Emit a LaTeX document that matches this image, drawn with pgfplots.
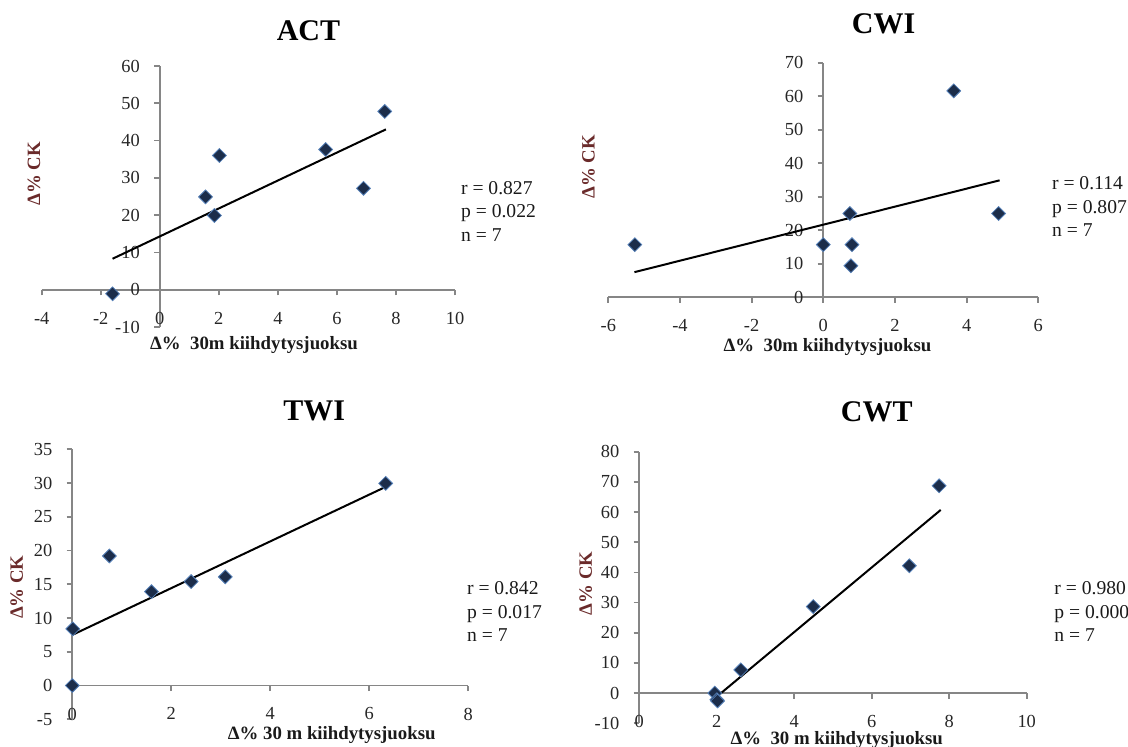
\documentclass[border=0pt]{standalone}
\usepackage{fontspec}
\setmainfont{Liberation Serif}
\usepackage{pgfplots}
\pgfplotsset{compat=1.18}
\definecolor{axgray}{HTML}{868686}
\definecolor{mkfill}{HTML}{1C2D4A}
\definecolor{mkedge}{HTML}{5580B8}
\definecolor{ylab}{HTML}{6A2A2A}
\definecolor{tickc}{HTML}{262626}
\definecolor{labc}{HTML}{1A1A1A}
\pgfplotsset{
  excel/.style={
    scale only axis, axis lines=middle, enlargelimits=false, clip=false,
    axis line style={draw=axgray, line width=0.9pt, -},
    every inner x axis line/.append style={-},
    every inner y axis line/.append style={-},
    tick align=outside, major tick length=2.8pt,
    tick style={draw=axgray, line width=0.9pt},
    hide obscured x ticks=false, hide obscured y ticks=false,
    ticklabel style={font=\fontsize{9.2}{10}\selectfont, text=tickc},
    /pgf/number format/assume math mode=true,
    xticklabel style={yshift=-4.8pt},
    yticklabel style={xshift=-3.7pt},
    anchor=south west,
  },
  dots/.style={only marks, mark=square*, mark size=2.45pt,
    mark options={rotate=45, fill=mkfill, draw=mkedge, line width=0.4pt}},
  trend/.style={black, line width=1pt, no marks},
}
\tikzset{
  ttl/.style={anchor=base, font=\bfseries\fontsize{15}{18}\selectfont},
  ylb/.style={rotate=90, font=\bfseries\fontsize{9.4}{11}\selectfont, text=ylab},
  xlb/.style={anchor=base, font=\bfseries\fontsize{9.4}{11}\selectfont, text=labc},
  stat/.style={anchor=base west, font=\fontsize{9.8}{12}\selectfont, text=labc, inner sep=0pt},
}
\begin{document}
\begin{tikzpicture}
\useasboundingbox (0,0) rectangle (564pt,373.5pt);
\clip (0,0) rectangle (564pt,373.5pt);

% ---------- ACT ----------
\begin{axis}[excel, at={(20.85pt,210pt)}, width=206.65pt, height=130.5pt,
  xmin=-4, xmax=10, ymin=-10, ymax=60,
  xtick={-4,-2,0,2,4,6,8,10}, ytick={-10,0,10,20,30,40,50,60}]
\addplot[dots] coordinates {(-1.6,-1.1) (1.55,24.9) (1.85,19.9) (2.02,36) (5.62,37.6) (6.9,27.2) (7.62,47.8)};
\addplot[trend] coordinates {(-1.6,8.3) (7.66,43)};
\end{axis}
\node[ttl] at (154.25pt,353.15pt) {ACT};
\node[ylb] at (17pt,286.5pt) {Δ\% CK};
\node[xlb] at (127pt,198.85pt) {Δ\%\ \ 30m kiihdytysjuoksu};
\node[stat] at (230.35pt,276.25pt) {r = 0.827};
\node[stat] at (230.35pt,264.6pt) {p = 0.022};
\node[stat] at (230.35pt,252.95pt) {n = 7};

% ---------- CWI ----------
\begin{axis}[excel, at={(304.15pt,224.85pt)}, width=215pt, height=117.3pt,
  xmin=-6, xmax=6, ymin=0, ymax=70,
  xtick={-6,-4,-2,0,2,4,6}, ytick={0,10,20,30,40,50,60,70}]
\addplot[dots] coordinates {(-5.26,15.7) (0,15.7) (0.74,25) (0.8,15.7) (0.77,9.4) (3.64,61.6) (4.89,25)};
\addplot[trend] coordinates {(-5.27,7.5) (4.92,34.9)};
\end{axis}
\node[ttl] at (441.8pt,356.9pt) {CWI};
\node[ylb] at (294.2pt,290pt) {Δ\% CK};
\node[xlb] at (413.75pt,197.7pt) {Δ\%\ \ 30m kiihdytysjuoksu};
\node[stat] at (525.85pt,278.6pt) {r = 0.114};
\node[stat] at (525.85pt,266.95pt) {p = 0.807};
\node[stat] at (525.85pt,255.3pt) {n = 7};

% ---------- TWI ----------
\begin{axis}[excel, at={(36.15pt,13.85pt)}, width=198pt, height=135pt,
  xmin=0, xmax=8, ymin=-5, ymax=35,
  xtick={0,2,4,6,8}, ytick={-5,0,5,10,15,20,25,30,35}]
\addplot[dots] coordinates {(0,0) (0.01,8.4) (0.75,19.2) (1.6,13.9) (2.4,15.4) (3.09,16.1) (6.33,29.95)};
\addplot[trend] coordinates {(0,7.5) (6.32,29.4)};
\end{axis}
\node[ttl] at (157.1pt,163.2pt) {TWI};
\node[ylb] at (8.35pt,79.9pt) {Δ\% CK};
\node[xlb] at (165.85pt,3.55pt) {Δ\%\ 30 m kiihdytysjuoksu};
\node[stat] at (233.35pt,76.1pt) {r = 0.842};
\node[stat] at (233.35pt,64.45pt) {p = 0.017};
\node[stat] at (233.35pt,52.8pt) {n = 7};

% ---------- CWT ----------
\begin{axis}[excel, at={(319.65pt,11.85pt)}, width=193.7pt, height=135.8pt,
  xmin=0, xmax=10, ymin=-10, ymax=80,
  xtick={0,2,4,6,8,10}, ytick={-10,0,10,20,30,40,50,60,70,80}]
\addplot[dots] coordinates {(1.95,0) (2.0,-2.2) (2.02,-2.6) (2.62,7.7) (4.49,28.7) (6.97,42.2) (7.74,68.7)};
\addplot[trend] coordinates {(1.95,-1.7) (7.78,60.7)};
\end{axis}
\node[ttl] at (438.35pt,162.65pt) {CWT};
\node[ylb] at (292.9pt,81.8pt) {Δ\% CK};
\node[xlb] at (418.35pt,1.05pt) {Δ\%\ \ 30 m kiihdytysjuoksu};
\node[stat] at (527pt,76.1pt) {r = 0.980};
\node[stat] at (527pt,64.45pt) {p = 0.000};
\node[stat] at (527pt,52.8pt) {n = 7};
\end{tikzpicture}
\end{document}
